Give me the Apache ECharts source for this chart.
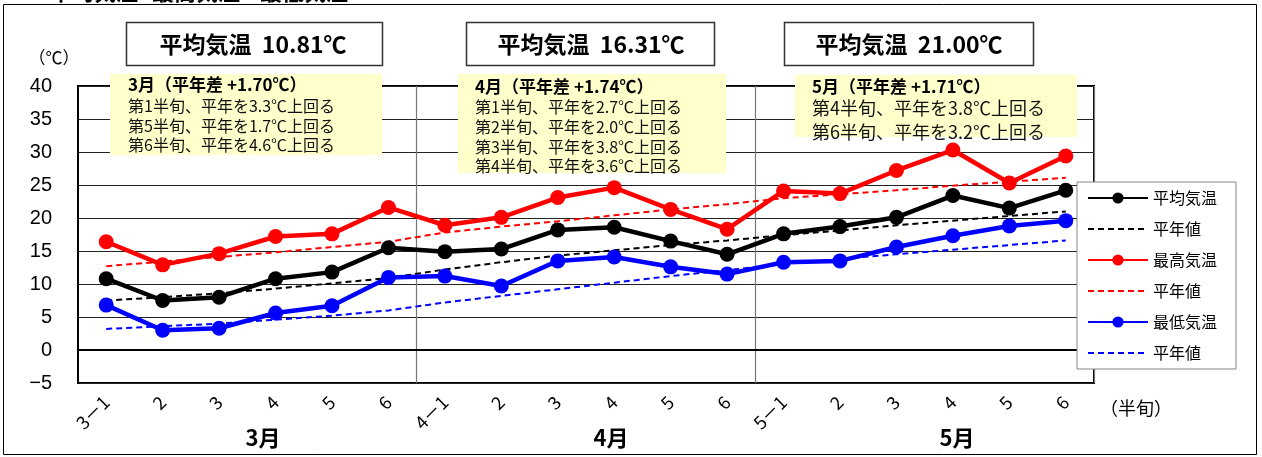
<!DOCTYPE html>
<html><head><meta charset="utf-8">
<script src="https://cdn.jsdelivr.net/npm/echarts@6/dist/echarts.min.js"></script>
<style>html,body{margin:0;padding:0;background:#fff}#c{width:1262px;height:457px}</style>
</head><body><div id="c"></div>
<script>
// ---- data ----
const categories = ['3－1','2','3','4','5','6','4－1','2','3','4','5','6','5－1','2','3','4','5','6'];
const avgTemp   = [10.8, 7.5, 8.0, 10.8, 11.8, 15.5, 14.9, 15.3, 18.2, 18.6, 16.5, 14.5, 17.6, 18.7, 20.1, 23.4, 21.5, 24.2];
const avgNormal = [7.5, 8.0, 8.6, 9.3, 10.1, 10.9, 12.2, 13.3, 14.3, 15.1, 15.9, 16.6, 17.4, 18.1, 18.9, 19.6, 20.3, 21.0];
const maxTemp   = [16.4, 12.9, 14.6, 17.2, 17.6, 21.6, 18.9, 20.1, 23.1, 24.6, 21.3, 18.3, 24.1, 23.7, 27.2, 30.3, 25.3, 29.4];
const maxNormal = [12.7, 13.4, 14.1, 14.8, 15.6, 16.4, 17.8, 18.7, 19.5, 20.4, 21.3, 22.1, 23.0, 23.6, 24.2, 24.9, 25.5, 26.1];
const minTemp   = [6.8, 3.0, 3.3, 5.6, 6.7, 11.0, 11.2, 9.7, 13.5, 14.1, 12.6, 11.5, 13.3, 13.5, 15.6, 17.3, 18.8, 19.6];
const minNormal = [3.2, 3.6, 4.0, 4.6, 5.2, 6.0, 7.2, 8.2, 9.2, 10.2, 11.2, 12.1, 13.0, 13.8, 14.5, 15.2, 15.9, 16.6];
const seriesNames = ['平均気温', '平年値', '最高気温', '平年値 ', '最低気温', '平年値  '];
const monthLabels = ['3月', '4月', '5月'];
const monthMeans = ['平均気温  10.81℃', '平均気温  16.31℃', '平均気温  21.00℃'];
const noteHeads = ['3月（平年差 +1.70℃）', '4月（平年差 +1.74℃）', '5月（平年差 +1.71℃）'];
const noteLines = [
  ['第1半旬、平年を3.3℃上回る', '第5半旬、平年を1.7℃上回る', '第6半旬、平年を4.6℃上回る'],
  ['第1半旬、平年を2.7℃上回る', '第2半旬、平年を2.0℃上回る', '第3半旬、平年を3.8℃上回る', '第4半旬、平年を3.6℃上回る'],
  ['第4半旬、平年を3.8℃上回る', '第6半旬、平年を3.2℃上回る']
];
const titleWords = ['1.', '平均気温', '最高気温', '最低気温'];
const yUnit = '（℃）';
const xUnit = '（半旬）';

// ---- layout / style ----
const JP = '"Noto Sans CJK JP", sans-serif';
const LAT = '"Liberation Sans", Arial, sans-serif';
const colors = ['#000000', '#000000', '#ff0000', '#ff0000', '#0000ff', '#0000ff'];
const seriesData = [avgTemp, avgNormal, maxTemp, maxNormal, minTemp, minNormal];

const series = seriesData.map((d, i) => {
  const dashed = i % 2 === 1;
  return {
    name: seriesNames[i], type: 'line', data: d,
    symbol: dashed ? 'none' : 'circle', symbolSize: 15,
    lineStyle: { color: colors[i], width: dashed ? 2 : 4.5, type: dashed ? [6, 4] : 'solid' },
    itemStyle: { color: colors[i] },
    z: dashed ? 3 : 4, animation: false
  };
});

const legendData = seriesNames.map((n, i) => i % 2 === 1
  ? { name: n, itemStyle: { opacity: 0, color: 'transparent', borderWidth: 0 } }
  : { name: n });

const G = [];
// outer frame
G.push({ type: 'rect', z: 10, silent: true, shape: { x: 3.5, y: 4.5, width: 1253, height: 450 }, style: { fill: 'none', stroke: '#000', lineWidth: 1 } });
// cut-off title
const titleX = [10, 50, 152, 260];
titleWords.forEach((w, i) => G.push({ type: 'text', z: 10, silent: true, x: titleX[i], y: -8,
  style: { text: w, font: 'bold 22px ' + JP, fill: '#000', textVerticalAlign: 'middle' } }));
// monthly mean boxes
const boxX = [126, 466, 784], boxW = [256, 248, 249], boxTextX = [253, 591, 909];
monthMeans.forEach((t, i) => {
  G.push({ type: 'rect', z: 10, silent: true, shape: { x: boxX[i] + 0.5, y: 22.5, width: boxW[i], height: 43 }, style: { fill: '#fff', stroke: '#333', lineWidth: 1.5 } });
  G.push({ type: 'text', z: 11, silent: true, x: boxTextX[i], y: 44, style: { text: t, font: 'bold 23px ' + JP, fill: '#000', textAlign: 'center', textVerticalAlign: 'middle' } });
});
// yellow notes
const noteRect = [[110, 74, 272, 81], [458, 74, 268, 99], [795, 75, 282, 62]];
const noteTextX = [128, 475, 812];
const noteHeadY = [85, 87, 87];
const noteLineY = [[106, 126, 145], [107, 127, 147, 166], [108, 132]];
const noteFont = [16, 16, 18];
noteHeads.forEach((h, i) => {
  const r = noteRect[i];
  G.push({ type: 'rect', z: 10, silent: true, shape: { x: r[0], y: r[1], width: r[2], height: r[3] }, style: { fill: '#ffffcc' } });
  G.push({ type: 'text', z: 11, silent: true, x: noteTextX[i], y: noteHeadY[i], style: { text: h, font: 'bold 17px ' + JP, fill: '#000', textVerticalAlign: 'middle' } });
  noteLines[i].forEach((l, j) => G.push({ type: 'text', z: 11, silent: true, x: noteTextX[i], y: noteLineY[i][j],
    style: { text: l, font: noteFont[i] + 'px ' + JP, fill: '#111', textVerticalAlign: 'middle' } }));
});
// unit labels
G.push({ type: 'text', z: 10, silent: true, x: 54, y: 58, style: { text: yUnit, font: '17px ' + JP, fill: '#000', textAlign: 'center', textVerticalAlign: 'middle' } });
G.push({ type: 'text', z: 10, silent: true, x: 1136, y: 408, style: { text: xUnit, font: '18px ' + JP, fill: '#000', textAlign: 'center', textVerticalAlign: 'middle' } });
// month labels
const monthX = [263, 611, 957];
monthLabels.forEach((m, i) => G.push({ type: 'text', z: 10, silent: true, x: monthX[i], y: 438,
  style: { text: m, font: 'bold 22px ' + JP, fill: '#000', textAlign: 'center', textVerticalAlign: 'middle' } }));

const option = {
  animation: false,
  backgroundColor: '#fff',
  grid: { left: 78, top: 86, right: 168, bottom: 74, show: true, borderColor: '#000', borderWidth: 2, backgroundColor: 'transparent' },
  xAxis: {
    type: 'category', data: categories, boundaryGap: true,
    axisLine: { lineStyle: { color: '#000', width: 2 } },
    axisTick: { show: false },
    axisLabel: { interval: 0, rotate: 45, margin: 16, fontSize: 18, fontFamily: JP, color: '#000' },
    splitLine: { show: true, interval: (idx) => idx === 6 || idx === 12, lineStyle: { color: '#777', width: 1.2 } }
  },
  yAxis: {
    type: 'value', min: -5, max: 40, interval: 5,
    axisLine: { show: true, lineStyle: { color: '#000', width: 2 } },
    axisTick: { show: false },
    axisLabel: { fontSize: 20, fontFamily: LAT, color: '#000', margin: 26, formatter: v => v < 0 ? '−' + Math.abs(v) : String(v) },
    splitLine: { lineStyle: { color: '#222', width: 1 } }
  },
  legend: {
    orient: 'vertical', left: 1077, top: 182,
    backgroundColor: '#fff', borderColor: '#888', borderWidth: 1,
    padding: [8, 19, 8, 10], itemWidth: 60, itemHeight: 14, itemGap: 15,
    textStyle: { fontSize: 16, fontFamily: JP, color: '#000' },
    formatter: n => n.trim(),
    data: legendData
  },
  series: series,
  graphic: { elements: G }
};
const chart = echarts.init(document.getElementById('c'));
chart.setOption(option);
</script></body></html>
